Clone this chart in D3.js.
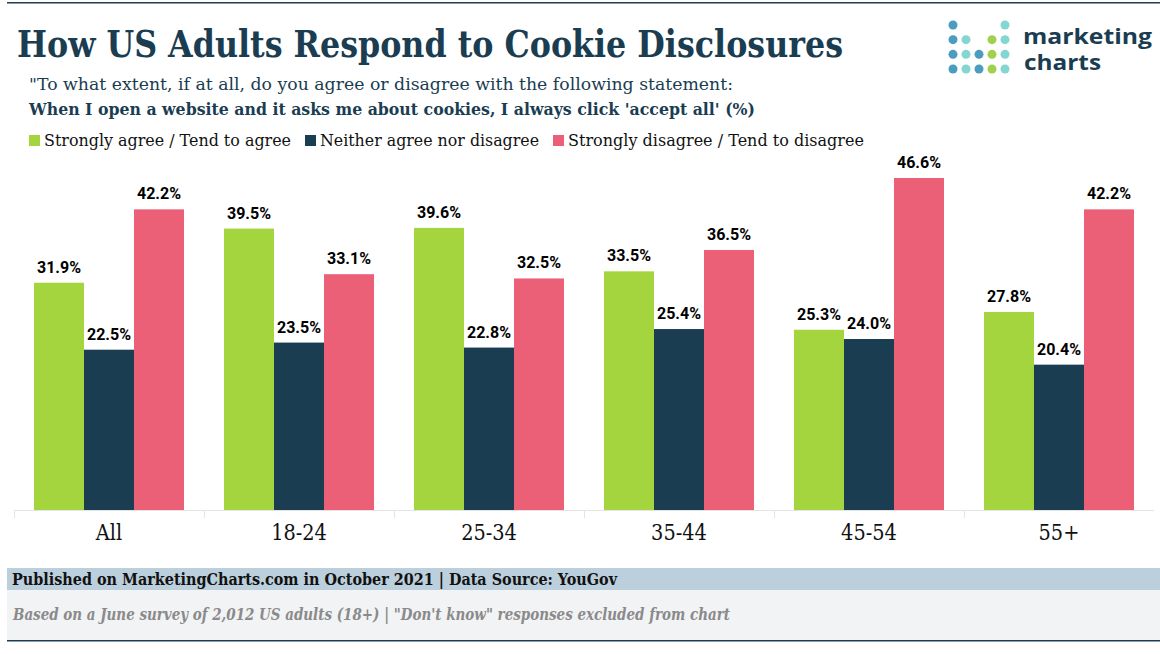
<!DOCTYPE html>
<html>
<head>
<meta charset="utf-8">
<script src="https://cdn.jsdelivr.net/npm/d3@7/dist/d3.min.js"></script>
<style>
	html, body { margin: 0; padding: 0; background: #fff; }
	svg { display: block; }
	text { font-family: "DejaVu Serif", serif; }
</style>
</head>
<body>
<div id="chart"></div>
<script>
var categories = ['All', '18-24', '25-34', '35-44', '45-54', '55+'];
var seriesNames = ['Strongly agree / Tend to agree', 'Neither agree nor disagree', 'Strongly disagree / Tend to disagree'];
var agree = [31.9, 39.5, 39.6, 33.5, 25.3, 27.8];
var neither = [22.5, 23.5, 22.8, 25.4, 24.0, 20.4];
var disagree = [42.2, 33.1, 32.5, 36.5, 46.6, 42.2];
var seriesColors = ['#a4d53f', '#1a3d52', '#ec6077'];
var series = [agree, neither, disagree];

// logo dots: column index, row index, colour
var logoDots = [
	[0, 0, '#4b9dbf'], [4, 0, '#84d6d2'],
	[0, 1, '#4b9dbf'], [1, 1, '#84d6d2'], [3, 1, '#a0d14a'], [4, 1, '#84d6d2'],
	[0, 2, '#4b9dbf'], [1, 2, '#84d6d2'], [2, 2, '#4b9dbf'], [3, 2, '#a0d14a'], [4, 2, '#84d6d2'],
	[0, 3, '#4b9dbf'], [1, 3, '#84d6d2'], [2, 3, '#4b9dbf'], [3, 3, '#a0d14a'], [4, 3, '#84d6d2']
];

var navy = '#1a3d52';
var width = 1160, height = 654;
var condensed = '"DejaVu Serif Condensed", "DejaVu Serif", serif';

var svg = d3.select('#chart').append('svg')
	.attr('width', width)
	.attr('height', height);

// text fitted to the width it has in the picture
function label(x, y, str, size, fill, fitted, opts) {
	opts = opts || {};
	var t = svg.append('text')
		.attr('x', x)
		.attr('y', y)
		.attr('font-size', size)
		.attr('fill', fill)
		.attr('font-weight', opts.weight || 'normal')
		.text(str);
	if (opts.family) t.style('font-family', opts.family);
	if (opts.italic) t.attr('font-style', 'italic');
	if (fitted) t.attr('textLength', fitted).attr('lengthAdjust', 'spacingAndGlyphs');
	return t;
}

// frame
svg.append('rect').attr('x', 7).attr('y', 2).attr('width', 1153).attr('height', 1.5).attr('fill', navy);
svg.append('rect').attr('x', 7).attr('y', 640).attr('width', 1153).attr('height', 1.5).attr('fill', navy);

// header
label(17, 57, 'How US Adults Respond to Cookie Disclosures', 38, navy, 826, { weight: 'bold' });
label(29, 90, '"To what extent, if at all, do you agree or disagree with the following statement:', 17, navy, 704);
label(29, 115, "When I open a website and it asks me about cookies, I always click 'accept all' (%)", 17, navy, 726, { weight: 'bold' });

// legend
var legendX = [29, 305, 553];
var legendW = [247, 219, 296];
seriesNames.forEach(function(name, i) {
	svg.append('rect')
		.attr('x', legendX[i])
		.attr('y', 135)
		.attr('width', 11)
		.attr('height', 11)
		.attr('fill', seriesColors[i]);
	label(legendX[i] + 15, 146, name, 16.5, '#111', legendW[i]);
});

// logo
var logoX = d3.scalePoint().domain([0, 1, 2, 3, 4]).range([953, 1005]);
var logoY = d3.scalePoint().domain([0, 1, 2, 3]).range([25, 69]);
svg.append('g').selectAll('circle')
	.data(logoDots)
	.join('circle')
	.attr('cx', function(d) { return logoX(d[0]); })
	.attr('cy', function(d) { return logoY(d[1]); })
	.attr('r', 4.5)
	.attr('fill', function(d) { return d[2]; });
label(1023, 44, 'marketing', 21, navy, 129, { weight: 'bold', family: '"Open Sans", sans-serif' });
label(1024, 70, 'charts', 21, navy, 77, { weight: 'bold', family: '"Open Sans", sans-serif' });

// chart
var x0 = d3.scaleBand()
	.domain(categories)
	.range([14, 1154])
	.paddingInner(0.2105)
	.paddingOuter(0.1053);
var x1 = d3.scaleBand()
	.domain(d3.range(series.length))
	.range([0, x0.bandwidth()]);
var y = d3.scaleLinear()
	.domain([0, 46.6])
	.range([510, 178]);

var groups = svg.append('g').selectAll('g')
	.data(categories)
	.join('g')
	.attr('transform', function(d) { return 'translate(' + x0(d) + ',0)'; });

groups.each(function(cat, c) {
	var g = d3.select(this);
	series.forEach(function(values, s) {
		g.append('rect')
			.attr('x', x1(s))
			.attr('y', y(values[c]))
			.attr('width', x1.bandwidth())
			.attr('height', y(0) - y(values[c]))
			.attr('fill', seriesColors[s]);
		g.append('text')
			.attr('x', x1(s) + x1.bandwidth() / 2)
			.attr('y', y(values[c]) - 10)
			.attr('text-anchor', 'middle')
			.attr('font-size', 16)
			.attr('font-weight', 'bold')
			.attr('fill', '#000')
			.style('font-family', 'Roboto, sans-serif')
			.text(values[c].toFixed(1) + '%');
	});
});

// axis: ticks sit on the band edges
var step = x0.step();
var axis = svg.append('g');
axis.append('line')
	.attr('x1', 14).attr('x2', 1154)
	.attr('y1', 510.5).attr('y2', 510.5)
	.attr('stroke', '#e4e4e4');
axis.selectAll('line.tick')
	.data(d3.range(categories.length))
	.join('line')
	.attr('class', 'tick')
	.attr('x1', function(i) { return 14.5 + i * step; })
	.attr('x2', function(i) { return 14.5 + i * step; })
	.attr('y1', 510)
	.attr('y2', 518)
	.attr('stroke', '#e4e4e4');
axis.selectAll('text')
	.data(categories)
	.join('text')
	.attr('x', function(d) { return x0(d) + x0.bandwidth() / 2; })
	.attr('y', 540)
	.attr('text-anchor', 'middle')
	.attr('font-size', 21.5)
	.attr('fill', '#111')
	.style('font-family', condensed)
	.text(function(d) { return d; });

// footer
svg.append('rect').attr('x', 7).attr('y', 568).attr('width', 1153).attr('height', 22).attr('fill', '#bccfdd');
svg.append('rect').attr('x', 7).attr('y', 590).attr('width', 1153).attr('height', 50).attr('fill', '#f2f3f5');
label(12, 585, 'Published on MarketingCharts.com in October 2021 | Data Source: YouGov', 16, '#111', 605, { weight: 'bold', family: condensed });
label(13, 620, 'Based on a June survey of 2,012 US adults (18+) | "Don\'t know" responses excluded from chart', 16, '#8a8a8a', 717, { weight: 'bold', italic: true, family: condensed });
</script>
</body>
</html>
